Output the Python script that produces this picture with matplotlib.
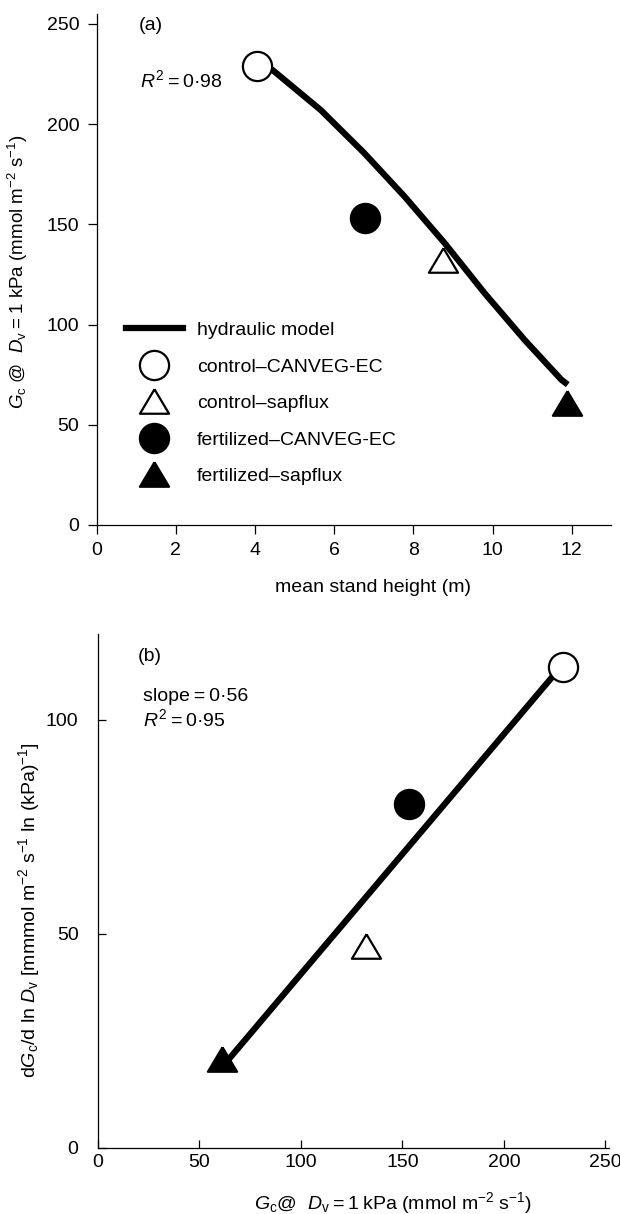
import matplotlib
matplotlib.use("Agg")
import matplotlib.pyplot as plt
from matplotlib.lines import Line2D

plt.rcParams['font.family'] = ['Liberation Sans', 'DejaVu Sans']
plt.rcParams['mathtext.fontset'] = 'custom'
plt.rcParams['mathtext.rm'] = 'Liberation Sans'
plt.rcParams['mathtext.it'] = 'Liberation Sans:italic'
plt.rcParams['font.size'] = 14

# stand height (m) and canopy conductance at D = 1 kPa
series_names = ['control–CANVEG-EC', 'control–sapflux',
                'fertilized–CANVEG-EC', 'fertilized–sapflux']
height = [4.06, 8.76, 6.77, 11.88]
gc_1kpa = [229, 132, 153, 61]
# sensitivity dGc/dlnD
sensitivity = [112.4, 47.1, 80.3, 20.7]

# hydraulic model curve
model_height = [4.06, 4.44, 5.66, 6.76, 7.77, 8.79, 9.80, 10.81, 11.74, 11.9]
model_gc = [229, 227, 207, 185.5, 164, 140.6, 115.6, 92.3, 72.4, 70]

fit_slope = 0.56
r2_a = '0·98'
r2_b = '0·95'

TS = '\u2009'
tri = [(0, 0.84), (-1, -0.84), (1, -0.84), (0, 0.84)]
markers = ['o', tri, 'o', tri]
faces = ['white', 'white', 'black', 'black']
MS = 21
MEW = 1.6
LW = 4.5

fig = plt.figure(figsize=(6.2, 12.14), dpi=100)
ax1 = fig.add_axes([0.156, 0.5676, 0.83, 0.421])
ax2 = fig.add_axes([0.158, 0.0544, 0.825, 0.4234])

# ---- (a) ----
ax1.plot(model_height, model_gc, color='black', lw=LW, solid_capstyle='butt',
         solid_joinstyle='round', zorder=2)
for x, y, m, fc in zip(height, gc_1kpa, markers, faces):
    ax1.plot(x, y, marker=m, ms=MS, mfc=fc, mec='black', mew=MEW, ls='none', zorder=3)

ax1.set_xlim(0, 13)
ax1.set_ylim(0, 255)
ax1.set_xticks(range(0, 13, 2))
ax1.set_yticks(range(0, 251, 50))
ax1.tick_params(direction='out', length=6.5, width=0.9, labelsize=14, pad=6)
ax1.set_xlabel('mean stand height (m)', fontsize=14)
ax1.xaxis.set_label_coords(0.537, -0.105)
ax1.set_ylabel(r'$G_\mathrm{c}$ @  $D_\mathrm{v}$' + TS + '=' + TS + '1 kPa (mmol m$^{-2}$ s$^{-1}$)',
               fontsize=13.5)
ax1.yaxis.set_label_coords(-0.13, 0.495)
ax1.text(1.05, 249, '(a)', fontsize=14, va='center')
ax1.text(1.1, 222, r'$R^2$' + TS + '=' + TS + r2_a, fontsize=14, va='center')

handles = [Line2D([], [], color='black', lw=LW)]
for m, fc in zip(markers, faces):
    handles.append(Line2D([], [], marker=m, ms=MS, mfc=fc, mec='black', mew=MEW, ls='none'))
ax1.legend(handles, ['hydraulic model'] + series_names, loc='upper left',
           bbox_to_anchor=(0.73, 101.5), bbox_transform=ax1.transData,
           frameon=False, handlelength=2.95, handletextpad=0.72,
           labelspacing=0.97, borderpad=0, borderaxespad=0, fontsize=14)

# ---- (b) ----
fit_x = [min(gc_1kpa) - 1, max(gc_1kpa) - 5]
mean_x = sum(gc_1kpa) / len(gc_1kpa)
mean_y = sum(sensitivity) / len(sensitivity)
fit_y = [mean_y + fit_slope * (x - mean_x) for x in fit_x]
ax2.plot(fit_x, fit_y, color='black', lw=LW, solid_capstyle='butt', zorder=2)
for x, y, m, fc in zip(gc_1kpa, sensitivity, markers, faces):
    ax2.plot(x, y, marker=m, ms=MS, mfc=fc, mec='black', mew=MEW, ls='none', zorder=3)

ax2.set_xlim(0, 252)
ax2.set_ylim(0, 120)
ax2.set_xticks(range(0, 251, 50))
ax2.set_yticks([0, 50, 100])
ax2.tick_params(direction='in', length=6, width=0.9, labelsize=14)
ax2.tick_params(axis='y', pad=14)
ax2.tick_params(axis='x', pad=4)
ax2.set_xlabel(r'$G_\mathrm{c}$@  $D_\mathrm{v}$' + TS + '=' + TS + '1' + TS + 'kPa (mmol m$^{-2}$ s$^{-1}$)',
               fontsize=14)
ax2.xaxis.set_label_coords(0.577, -0.082)
ax2.set_ylabel(r'd$G_\mathrm{c}$/d ln $D_\mathrm{v}$ [mmmol m$^{-2}$ s$^{-1}$ ln (kPa)$^{-1}$]',
               fontsize=14)
ax2.yaxis.set_label_coords(-0.11, 0.463)
ax2.text(19.7, 114.8, '(b)', fontsize=14, va='center')
ax2.text(22, 105.3, 'slope' + TS + '=' + TS + '0·56', fontsize=14, va='center')
ax2.text(22, 100, r'$R^2$' + TS + '=' + TS + r2_b, fontsize=14, va='center')

for ax in (ax1, ax2):
    ax.spines['top'].set_visible(False)
    ax.spines['right'].set_visible(False)
    for s in ('left', 'bottom'):
        ax.spines[s].set_linewidth(0.9)

fig.savefig('out.png', dpi=100)
